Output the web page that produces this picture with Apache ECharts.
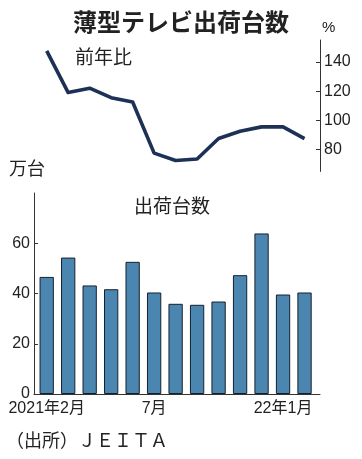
<!DOCTYPE html>
<html><head><meta charset="utf-8">
<script src="https://cdn.jsdelivr.net/npm/echarts@6/dist/echarts.min.js"></script>
<style>html,body{margin:0;padding:0;background:#fff}#c{width:362px;height:459px}</style>
</head><body><div id="c"></div>
<script>
var months = ['2021年2月','3月','4月','5月','6月','7月','8月','9月','10月','11月','12月','22年1月','2月'];
var shownLabelIdx = [0, 5, 11];
var ratioValues = [147.5, 119, 122, 115.5, 112.5, 77.5, 72.5, 73.5, 87.5, 92.5, 95.5, 95.5, 87.5];
var shipmentValues = [46.6, 54.3, 43.2, 41.7, 52.6, 40.4, 35.9, 35.5, 36.8, 47.3, 63.9, 39.6, 40.4];
var ratioTicks = [80, 100, 120, 140];
var shipTicks = [0, 20, 40, 60];

var FONT = "'Liberation Sans','Noto Sans CJK JP',sans-serif";
var CJK = "'Noto Sans CJK JP',sans-serif";
var TXT = '#222';
var AX = '#333';

var chart = echarts.init(document.getElementById('c'), null, {renderer:'canvas'});
function pairs(arr){ return arr.map(function(v,i){ return [i, v]; }); }
var xMin = -0.591, xMax = 12.72;

chart.setOption({
  animation: false,
  backgroundColor: '#fff',
  title: [
    {text:'薄型テレビ出荷台数', left:'center', top:5, textStyle:{fontFamily:CJK, fontSize:24, fontWeight:'bold', color:'#222'}},
  ],
  graphic: [
    {type:'text', left:322, top:20, style:{text:'%', font:'15px '+FONT, fill:TXT}},
    {type:'text', left:75, top:47, style:{text:'前年比', font:'19px '+CJK, fill:TXT}},
    {type:'text', left:9, top:159, style:{text:'万台', font:'18px '+CJK, fill:TXT}},
    {type:'text', left:134, top:196, style:{text:'出荷台数', font:'19px '+CJK, fill:TXT}},
    {type:'text', left:6, top:431, style:{text:'（出所）ＪＥＩＴＡ', font:'18px '+CJK, fill:TXT}}
  ],
  grid: [
    {left:34, right:42, top:40, height:131.4},
    {left:34, right:42, top:193, height:201}
  ],
  xAxis: [
    {gridIndex:0, type:'value', min:xMin, max:xMax, show:false},
    {gridIndex:1, type:'value', min:xMin, max:xMax,
      axisLine:{show:true, onZero:false, lineStyle:{color:AX, width:1}},
      axisTick:{show:false}, splitLine:{show:false},
      axisLabel:{customValues:shownLabelIdx, margin:7, fontFamily:FONT, fontSize:16, color:TXT,
        formatter:function(v){ return months[Math.round(v)]; }}}
  ],
  yAxis: [
    {gridIndex:0, type:'value', position:'right', min:65, max:155,
      axisLine:{show:true, onZero:false, lineStyle:{color:AX, width:1}},
      axisTick:{show:true, inside:true, length:4, customValues:ratioTicks, lineStyle:{color:AX}},
      splitLine:{show:false},
      axisLabel:{customValues:ratioTicks, margin:4, fontFamily:FONT, fontSize:16, color:TXT}},
    {gridIndex:1, type:'value', position:'left', min:0, max:80,
      axisLine:{show:true, onZero:false, lineStyle:{color:AX, width:1}},
      axisTick:{show:true, inside:true, length:4, customValues:shipTicks, lineStyle:{color:AX}},
      splitLine:{show:false},
      axisLabel:{customValues:shipTicks, margin:4, fontFamily:FONT, fontSize:16, color:TXT}}
  ],
  series: [
    {type:'line', xAxisIndex:0, yAxisIndex:0, data:pairs(ratioValues), symbol:'none',
      lineStyle:{color:'#1d3157', width:3.6, join:'round'}},
    {type:'bar', xAxisIndex:1, yAxisIndex:1, data:pairs(shipmentValues), barWidth:14.3,
      itemStyle:{color:'#4b86b1', borderColor:'#16202c', borderWidth:1}}
  ]
});
</script>
</body></html>
